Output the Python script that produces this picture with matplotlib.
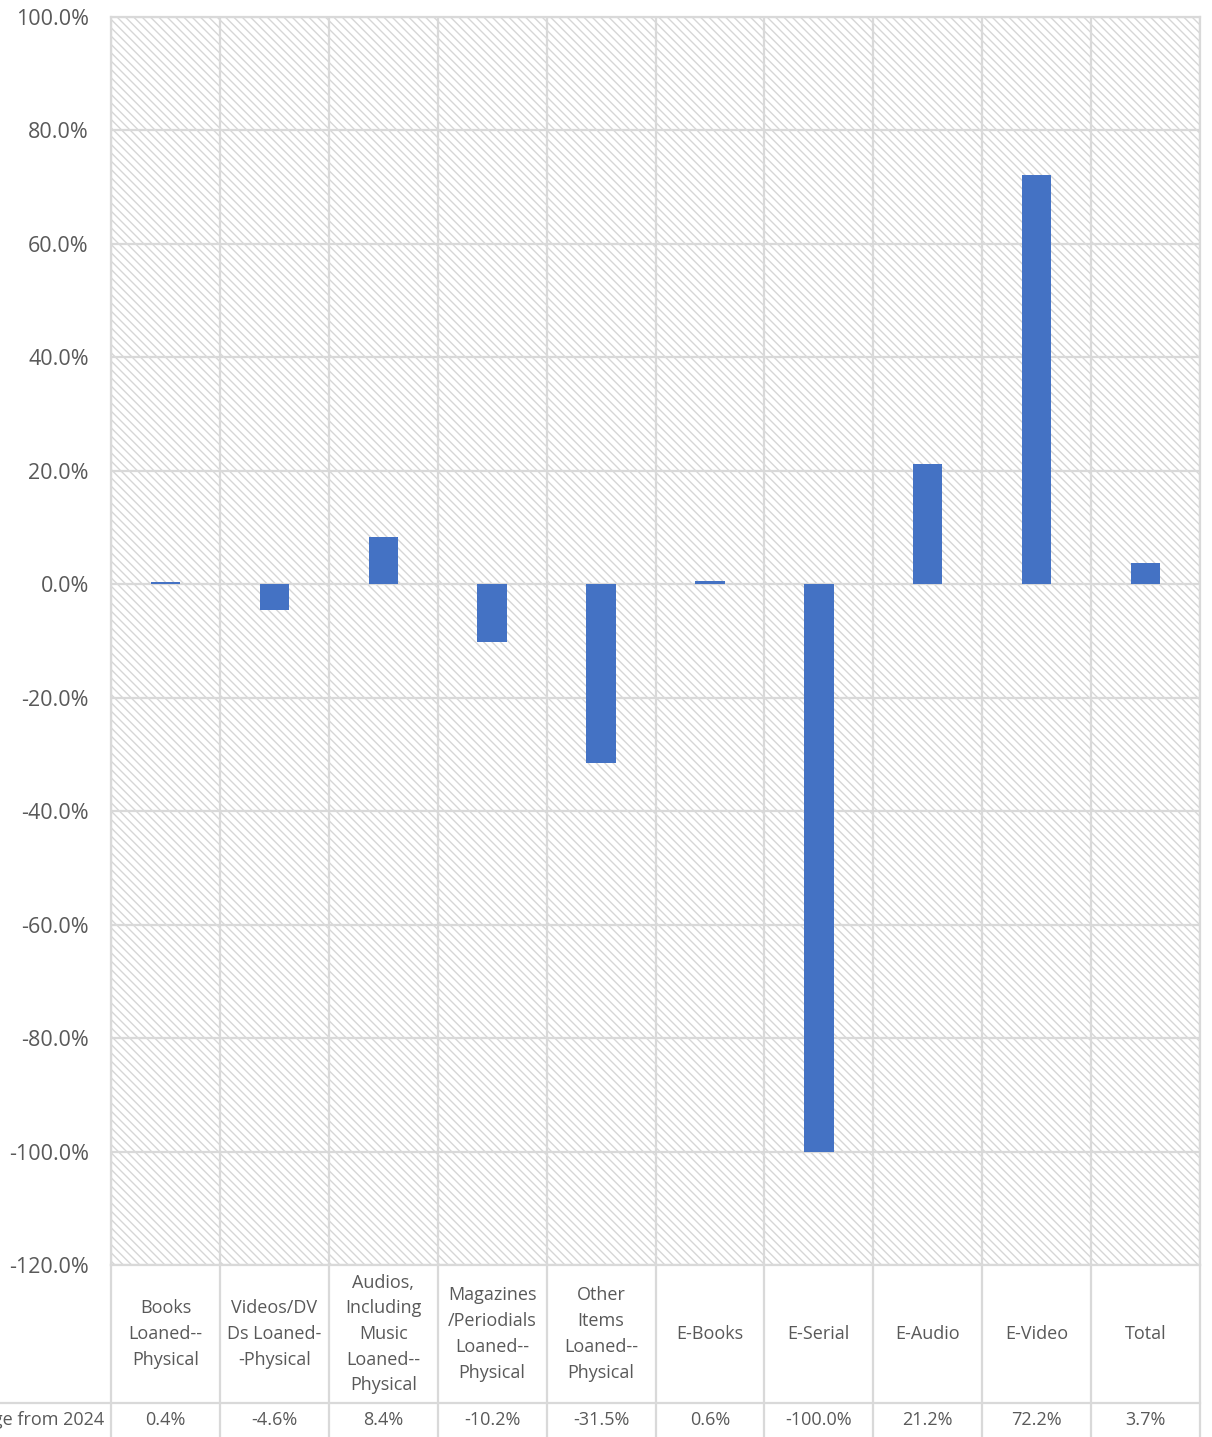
import matplotlib.pyplot as plt
from matplotlib.patches import Rectangle
from matplotlib import transforms
from matplotlib.ticker import FuncFormatter

categories = ["Books\nLoaned--\nPhysical", "Videos/DV\nDs Loaned-\n-Physical",
              "Audios,\nIncluding\nMusic\nLoaned--\nPhysical",
              "Magazines\n/Periodials\nLoaned--\nPhysical",
              "Other\nItems\nLoaned--\nPhysical",
              "E-Books", "E-Serial", "E-Audio", "E-Video", "Total"]
values = [0.4, -4.6, 8.4, -10.2, -31.5, 0.6, -100.0, 21.2, 72.2, 3.7]
row_label = "% Change from 2024"

W, H = 1212, 1437
grid_c = '#D9D9D9'
text_c = '#595959'
plt.rcParams['font.family'] = ['Open Sans', 'DejaVu Sans']
plt.rcParams['hatch.linewidth'] = 1.0

fig = plt.figure(figsize=(W / 100, H / 100), dpi=100)
x0, x1, ytop, ybot = 111, 1200, 17, 1265
ax = fig.add_axes([x0 / W, (H - ybot) / H, (x1 - x0) / W, (ybot - ytop) / H])

# hatched plot background
ax.add_patch(Rectangle((0, 0), 1, 1, transform=ax.transAxes, facecolor='white',
                       edgecolor='#D6D6D6', hatch='\\\\\\\\', linewidth=0, zorder=0))

n = len(values)
ax.bar(range(n), values, width=0.27, color='#4472C4', zorder=3)
ax.set_xlim(-0.5, n - 0.5)
ax.set_ylim(-120, 100)
ax.set_yticks(range(-120, 101, 20))
ax.yaxis.set_major_formatter(FuncFormatter(lambda v, p: f"{v:.1f}%"))
ax.tick_params(axis='y', length=0, pad=16, labelsize=15.5, labelcolor=text_c)
ax.set_xticks([])
ax.grid(axis='y', color=grid_c, linewidth=1.6, zorder=1)
for i in range(n + 1):
    ax.axvline(i - 0.5, color=grid_c, linewidth=1.6, zorder=1)
for s in ax.spines.values():
    s.set_color(grid_c)
    s.set_linewidth(1.6)

# data table below the axis
tr = transforms.blended_transform_factory(ax.transData, fig.transFigure)
def fy(py):
    return (H - py) / H

for i in range(n + 1):
    ax.plot([i - 0.5, i - 0.5], [fy(ybot), fy(H + 5)], transform=tr,
            color=grid_c, linewidth=1.6, clip_on=False)
fig.add_artist(plt.Line2D([0, x1 / W], [fy(1403), fy(1403)], color=grid_c, linewidth=1.6))

for i, (c, v) in enumerate(zip(categories, values)):
    ax.text(i, fy(1334), c, transform=tr, ha='center', va='center', fontsize=13,
            color=text_c, linespacing=1.55, clip_on=False)
    ax.text(i, fy(1420), f"{v:.1f}%", transform=tr, ha='center', va='center',
            fontsize=13, color=text_c, clip_on=False)
# row label cell extends past the left edge, as in the original
fig.text(104 / W, fy(1420), row_label, ha='right', va='center', fontsize=13, color=text_c)

fig.savefig('out.png', dpi=100)
